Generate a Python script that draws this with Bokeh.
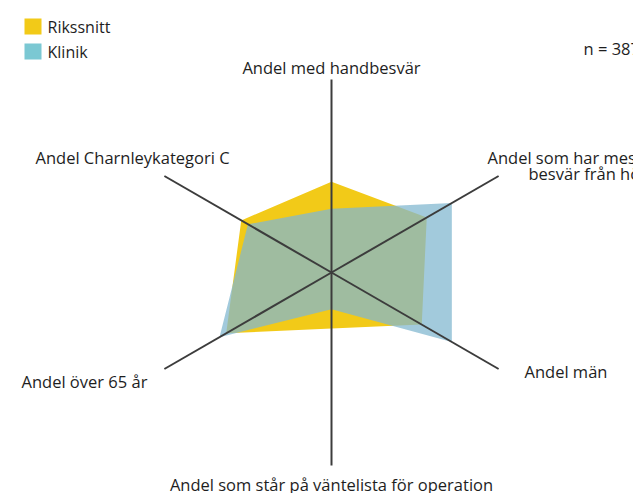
from bokeh.plotting import figure
from bokeh.models import Range1d
from bokeh.core.properties import value
from bokeh.embed import file_html
from bokeh.resources import INLINE
import numpy as np

# ---- data (percent of full axis length) ----
categories = [
    "Andel med handbesvär",
    "Andel som har mest besvär från höften",
    "Andel män",
    "Andel som står på väntelista för operation",
    "Andel över 65 år",
    "Andel Charnleykategori C",
]
rikssnitt = [47, 57, 54, 29, 63, 54]
klinik = [33, 72, 72, 19, 67, 50]
series_names = ["Rikssnitt", "Klinik"]
n_label = "n = 387"

# ---- layout (page pixel coordinates) ----
W, H = 633, 493
CX, CY, R = 331, 272, 193
angles = np.radians([90, 30, -30, -90, -150, 150])
FONT = value("Open Sans")
YELLOW = "#F2CA18"
BLUE_FILL = "#82B8D0"
BLUE_LEG = "#7BC8D3"
AXIS = "#3C3C3C"
TXT = "#1E1E1E"

p = figure(width=W, height=H, x_range=Range1d(0, W), y_range=Range1d(H, 0),
           output_backend="svg", toolbar_location=None, min_border=0)
p.axis.visible = False
p.grid.visible = False
p.outline_line_color = None
p.background_fill_color = "white"


def poly(vals):
    v = np.array(vals) / 100.0 * R
    return CX + v * np.cos(angles), CY - v * np.sin(angles)


rx, ry = poly(rikssnitt)
kx, ky = poly(klinik)
p.patch(list(rx), list(ry), fill_color=YELLOW, line_color=None)
p.patch(list(kx), list(ky), fill_color=BLUE_FILL, fill_alpha=0.74, line_color=None)

# axes
ex = CX + R * np.cos(angles)
ey = CY - R * np.sin(angles)
p.segment(x0=[CX] * 6, y0=[CY] * 6, x1=list(ex), y1=list(ey), line_color=AXIS, line_width=2)

fs = "16.5px"
# category labels
p.text(x=[CX], y=[67], text=[categories[0]], text_align="center", text_baseline="middle",
       text_font=FONT, text_font_size=fs, text_color=TXT)
p.text(x=[487, 528], y=[157, 173], text=["Andel som har mest", "besvär från höften"],
       text_align="left", text_baseline="middle", text_font=FONT, text_font_size=fs, text_color=TXT)
p.text(x=[524], y=[371], text=[categories[2]], text_align="left", text_baseline="middle",
       text_font=FONT, text_font_size=fs, text_color=TXT)
p.text(x=[CX], y=[484], text=[categories[3]], text_align="center", text_baseline="middle",
       text_font=FONT, text_font_size=fs, text_color=TXT)
p.text(x=[21], y=[381], text=[categories[4]], text_align="left", text_baseline="middle",
       text_font=FONT, text_font_size=fs, text_color=TXT)
p.text(x=[35], y=[157], text=[categories[5]], text_align="left", text_baseline="middle",
       text_font=FONT, text_font_size=fs, text_color=TXT)
p.text(x=[583], y=[48], text=[n_label], text_align="left", text_baseline="middle",
       text_font=FONT, text_font_size=fs, text_color=TXT)

# legend
p.quad(left=[24, 24], right=[41, 41], top=[18, 43], bottom=[34, 59],
       fill_color=[YELLOW, BLUE_LEG], line_color=None)
p.text(x=[47, 47], y=[26, 51], text=series_names, text_align="left", text_baseline="middle",
       text_font=FONT, text_font_size="16px", text_color=TXT)

open("out.html", "w").write(file_html(p, INLINE))
